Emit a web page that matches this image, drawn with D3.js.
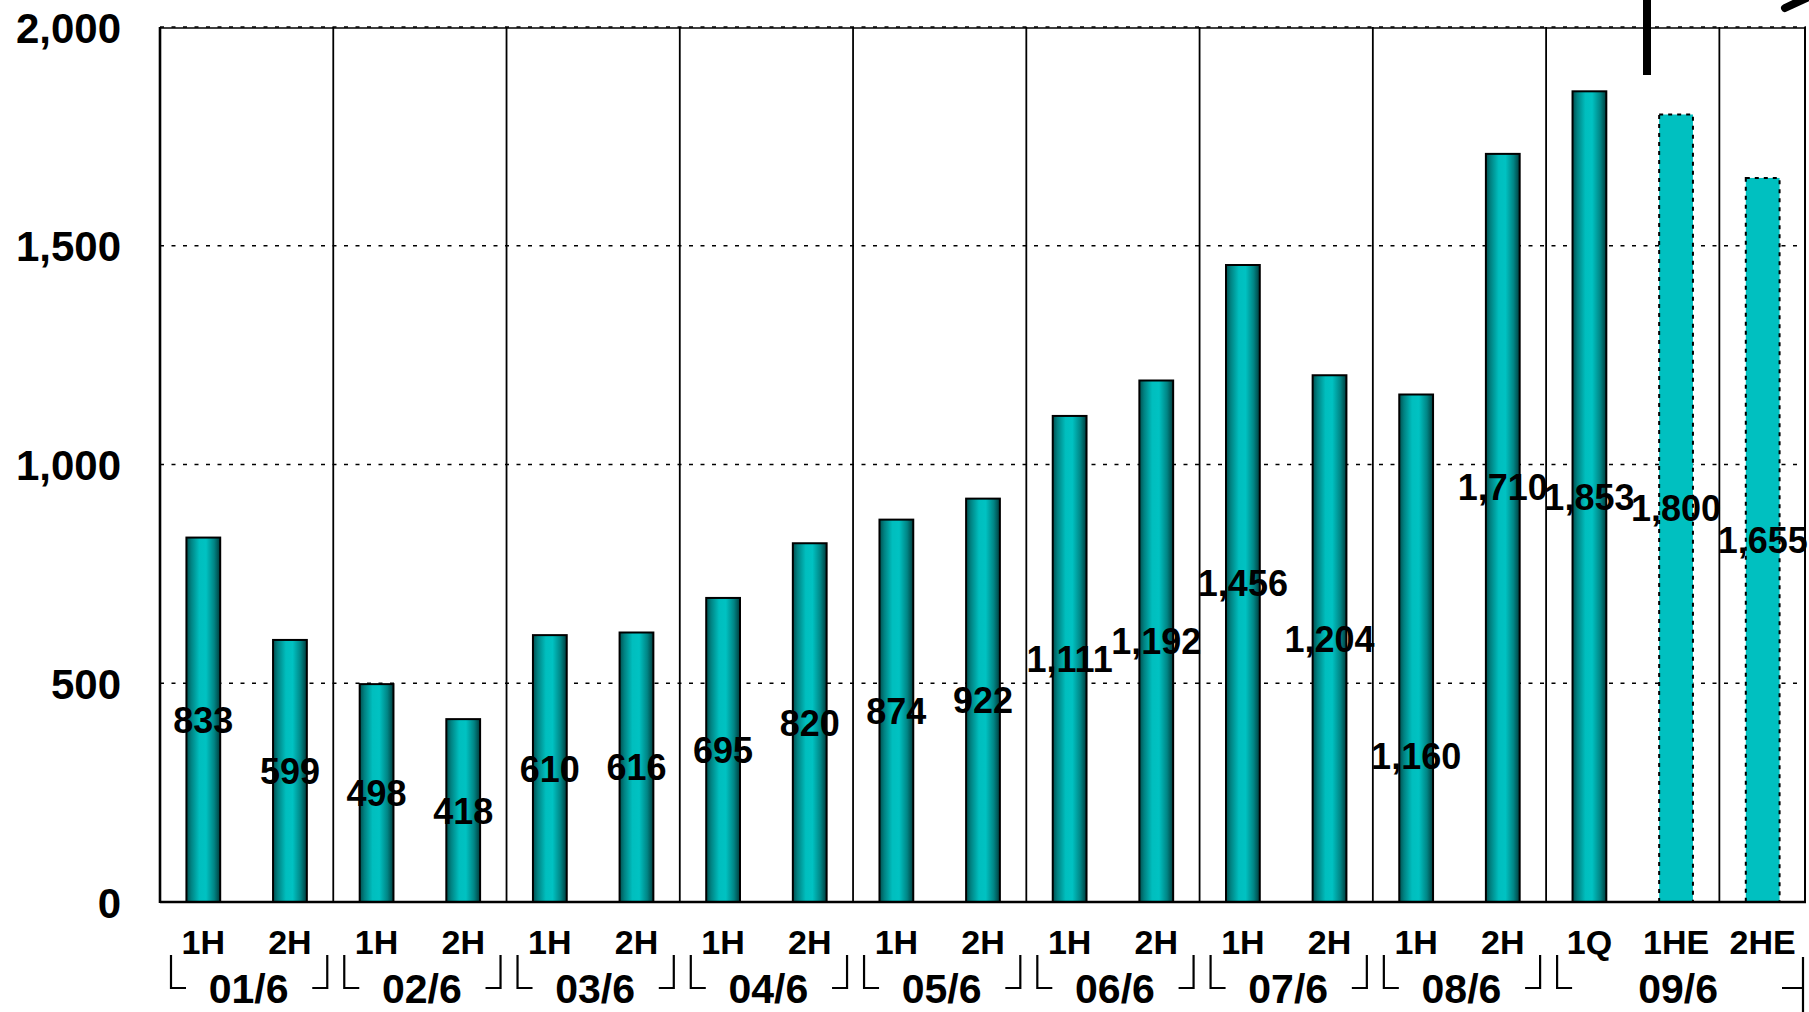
<!DOCTYPE html>
<html>
<head>
<meta charset="utf-8">
<script src="https://cdn.jsdelivr.net/npm/d3@7"></script>
<style>
  html, body { margin: 0; padding: 0; background: #fff; }
  svg { display: block; }
  text { font-family: "Liberation Sans", Arial, Helvetica, sans-serif; font-weight: bold; fill: #000; }
</style>
</head>
<body>
<svg id="chart" width="1809" height="1012"></svg>
<script>
// Half-year sales, fiscal years ending June
const categories = ["1H","2H","1H","2H","1H","2H","1H","2H","1H","2H","1H","2H","1H","2H","1H","2H","1Q","1HE","2HE"];
const sales = [833, 599, 498, 418, 610, 616, 695, 820, 874, 922, 1111, 1192, 1456, 1204, 1160, 1710, 1853, 1800, 1655];
const kinds = ["actual","actual","actual","actual","actual","actual","actual","actual","actual","actual",
               "actual","actual","actual","actual","actual","actual","actual","estimate","estimate"];
const fiscalYears = ["01/6","02/6","03/6","04/6","05/6","06/6","07/6","08/6","09/6"];
const yearSpans = [2, 2, 2, 2, 2, 2, 2, 2, 3];
const yTicks = [0, 500, 1000, 1500, 2000];

const svg = d3.select("#chart");
const plotLeft = 160, plotRight = 1806, plotTop = 27, plotBottom = 902;

const keys = categories.map((c, i) => i);
const x = d3.scaleBand().domain(keys).range([plotLeft, plotRight]).paddingInner(0).paddingOuter(0);
const y = d3.scaleLinear().domain([0, 2000]).range([plotBottom, plotTop]);
const barW = x.bandwidth() * 0.39;

// cylinder-like shading for actual bars
const defs = svg.append("defs");
const grad = defs.append("linearGradient").attr("id", "barShade")
  .attr("x1", "0%").attr("x2", "100%").attr("y1", "0%").attr("y2", "0%");
[["0%", "#004f4f"], ["14%", "#008282"], ["38%", "#00bebe"], ["58%", "#00c2c2"], ["82%", "#008585"], ["100%", "#003c3c"]]
  .forEach(([o, c]) => grad.append("stop").attr("offset", o).attr("stop-color", c));

// dotted gridlines
svg.append("g").selectAll("line").data(yTicks.filter(t => t > 0)).join("line")
  .attr("x1", plotLeft).attr("x2", plotRight)
  .attr("y1", d => y(d)).attr("y2", d => y(d))
  .attr("stroke", "#000").attr("stroke-width", 1.6)
  .attr("stroke-dasharray", "4,7.5");

// plot frame: top and right
svg.append("line").attr("x1", plotLeft).attr("x2", plotRight).attr("y1", y(2000) + 1).attr("y2", y(2000) + 1)
  .attr("stroke", "#000").attr("stroke-width", 1.6);
svg.append("line").attr("x1", plotRight - 1).attr("x2", plotRight - 1).attr("y1", plotTop).attr("y2", plotBottom)
  .attr("stroke", "#000").attr("stroke-width", 2);

// vertical dividers every two bars
const dividerIdx = d3.range(2, categories.length, 2);
svg.append("g").selectAll("line").data(dividerIdx).join("line")
  .attr("x1", d => x(d)).attr("x2", d => x(d))
  .attr("y1", plotTop).attr("y2", plotBottom)
  .attr("stroke", "#000").attr("stroke-width", 1.8);

// bars
svg.append("g").selectAll("rect").data(keys).join("rect")
  .attr("x", i => x(i) + (x.bandwidth() - barW) / 2)
  .attr("y", i => y(sales[i]))
  .attr("width", barW)
  .attr("height", i => y(0) - y(sales[i]))
  .attr("fill", i => kinds[i] === "estimate" ? "#00c0c0" : "url(#barShade)")
  .attr("stroke", "#000")
  .attr("stroke-width", 2)
  .attr("stroke-dasharray", i => kinds[i] === "estimate" ? "4,5" : null);

// left axis line and baseline
svg.append("line").attr("x1", plotLeft).attr("x2", plotLeft).attr("y1", plotTop).attr("y2", plotBottom + 1)
  .attr("stroke", "#000").attr("stroke-width", 2.6);
svg.append("line").attr("x1", plotLeft).attr("x2", plotRight).attr("y1", plotBottom).attr("y2", plotBottom)
  .attr("stroke", "#000").attr("stroke-width", 2.6);

// y axis
const yAxis = svg.append("g").attr("transform", `translate(${plotLeft},0)`)
  .call(d3.axisLeft(y).tickValues(yTicks).tickFormat(d3.format(",")).tickSize(0).tickPadding(39));
yAxis.select(".domain").remove();
yAxis.selectAll("text").attr("font-size", 42).attr("dy", "0.36em")
  .style("font-family", "'Liberation Sans', Arial, sans-serif").style("font-weight", "bold");

// x axis: half-year categories
const xAxis = svg.append("g").attr("transform", `translate(0,${plotBottom})`)
  .call(d3.axisBottom(x).tickFormat(i => categories[i]).tickSize(0).tickPadding(28));
xAxis.select(".domain").remove();
xAxis.selectAll("text").attr("font-size", 34)
  .style("font-family", "'Liberation Sans', Arial, sans-serif").style("font-weight", "bold");

// fiscal year groups with bracket marks
let start = 0;
const groups = fiscalYears.map((fy, g) => {
  const s = start, e = start + yearSpans[g] - 1;
  start += yearSpans[g];
  return { fy, x0: x(s), x1: x(e) + x.bandwidth(), last: g === fiscalYears.length - 1 };
});
const bTop = 955, bBot = 988, bLen = 15;
const gy = svg.append("g");
groups.forEach(gr => {
  gy.append("text").attr("x", (gr.x0 + gr.x1) / 2 + 2).attr("y", 1003)
    .attr("text-anchor", "middle").attr("font-size", 41).text(gr.fy);
  const lx = gr.x0 + 11;
  gy.append("path").attr("d", `M${lx},${bTop}V${bBot}H${lx + bLen}`)
    .attr("fill", "none").attr("stroke", "#000").attr("stroke-width", 2.2);
  if (gr.last) {
    const rx = gr.x1 - 3;
    gy.append("path").attr("d", `M${rx},${bTop + 2}V1012M${rx - 21},${bBot}H${rx}`)
      .attr("fill", "none").attr("stroke", "#000").attr("stroke-width", 2.2);
  } else {
    const rx = gr.x1 - 6;
    gy.append("path").attr("d", `M${rx},${bTop}V${bBot}H${rx - bLen}`)
      .attr("fill", "none").attr("stroke", "#000").attr("stroke-width", 2.2);
  }
});

// value labels, set at half the bar height (two are moved to stay clear)
const labelNudge = { 14: 108, 15: -41 };
svg.append("g").selectAll("text").data(keys).join("text")
  .attr("x", i => x(i) + x.bandwidth() / 2)
  .attr("y", i => y(sales[i] / 2) + (labelNudge[i] || 0))
  .attr("dy", "0.36em")
  .attr("text-anchor", "middle")
  .attr("font-size", 36)
  .text(i => d3.format(",")(sales[i]));

// marker strokes along the top edge
svg.append("line").attr("x1", 1647).attr("x2", 1647).attr("y1", -2).attr("y2", 75)
  .attr("stroke", "#000").attr("stroke-width", 8);
svg.append("line").attr("x1", 1785).attr("x2", 1815).attr("y1", 8).attr("y2", -6)
  .attr("stroke", "#000").attr("stroke-width", 8).attr("stroke-linecap", "round");
</script>
</body>
</html>
